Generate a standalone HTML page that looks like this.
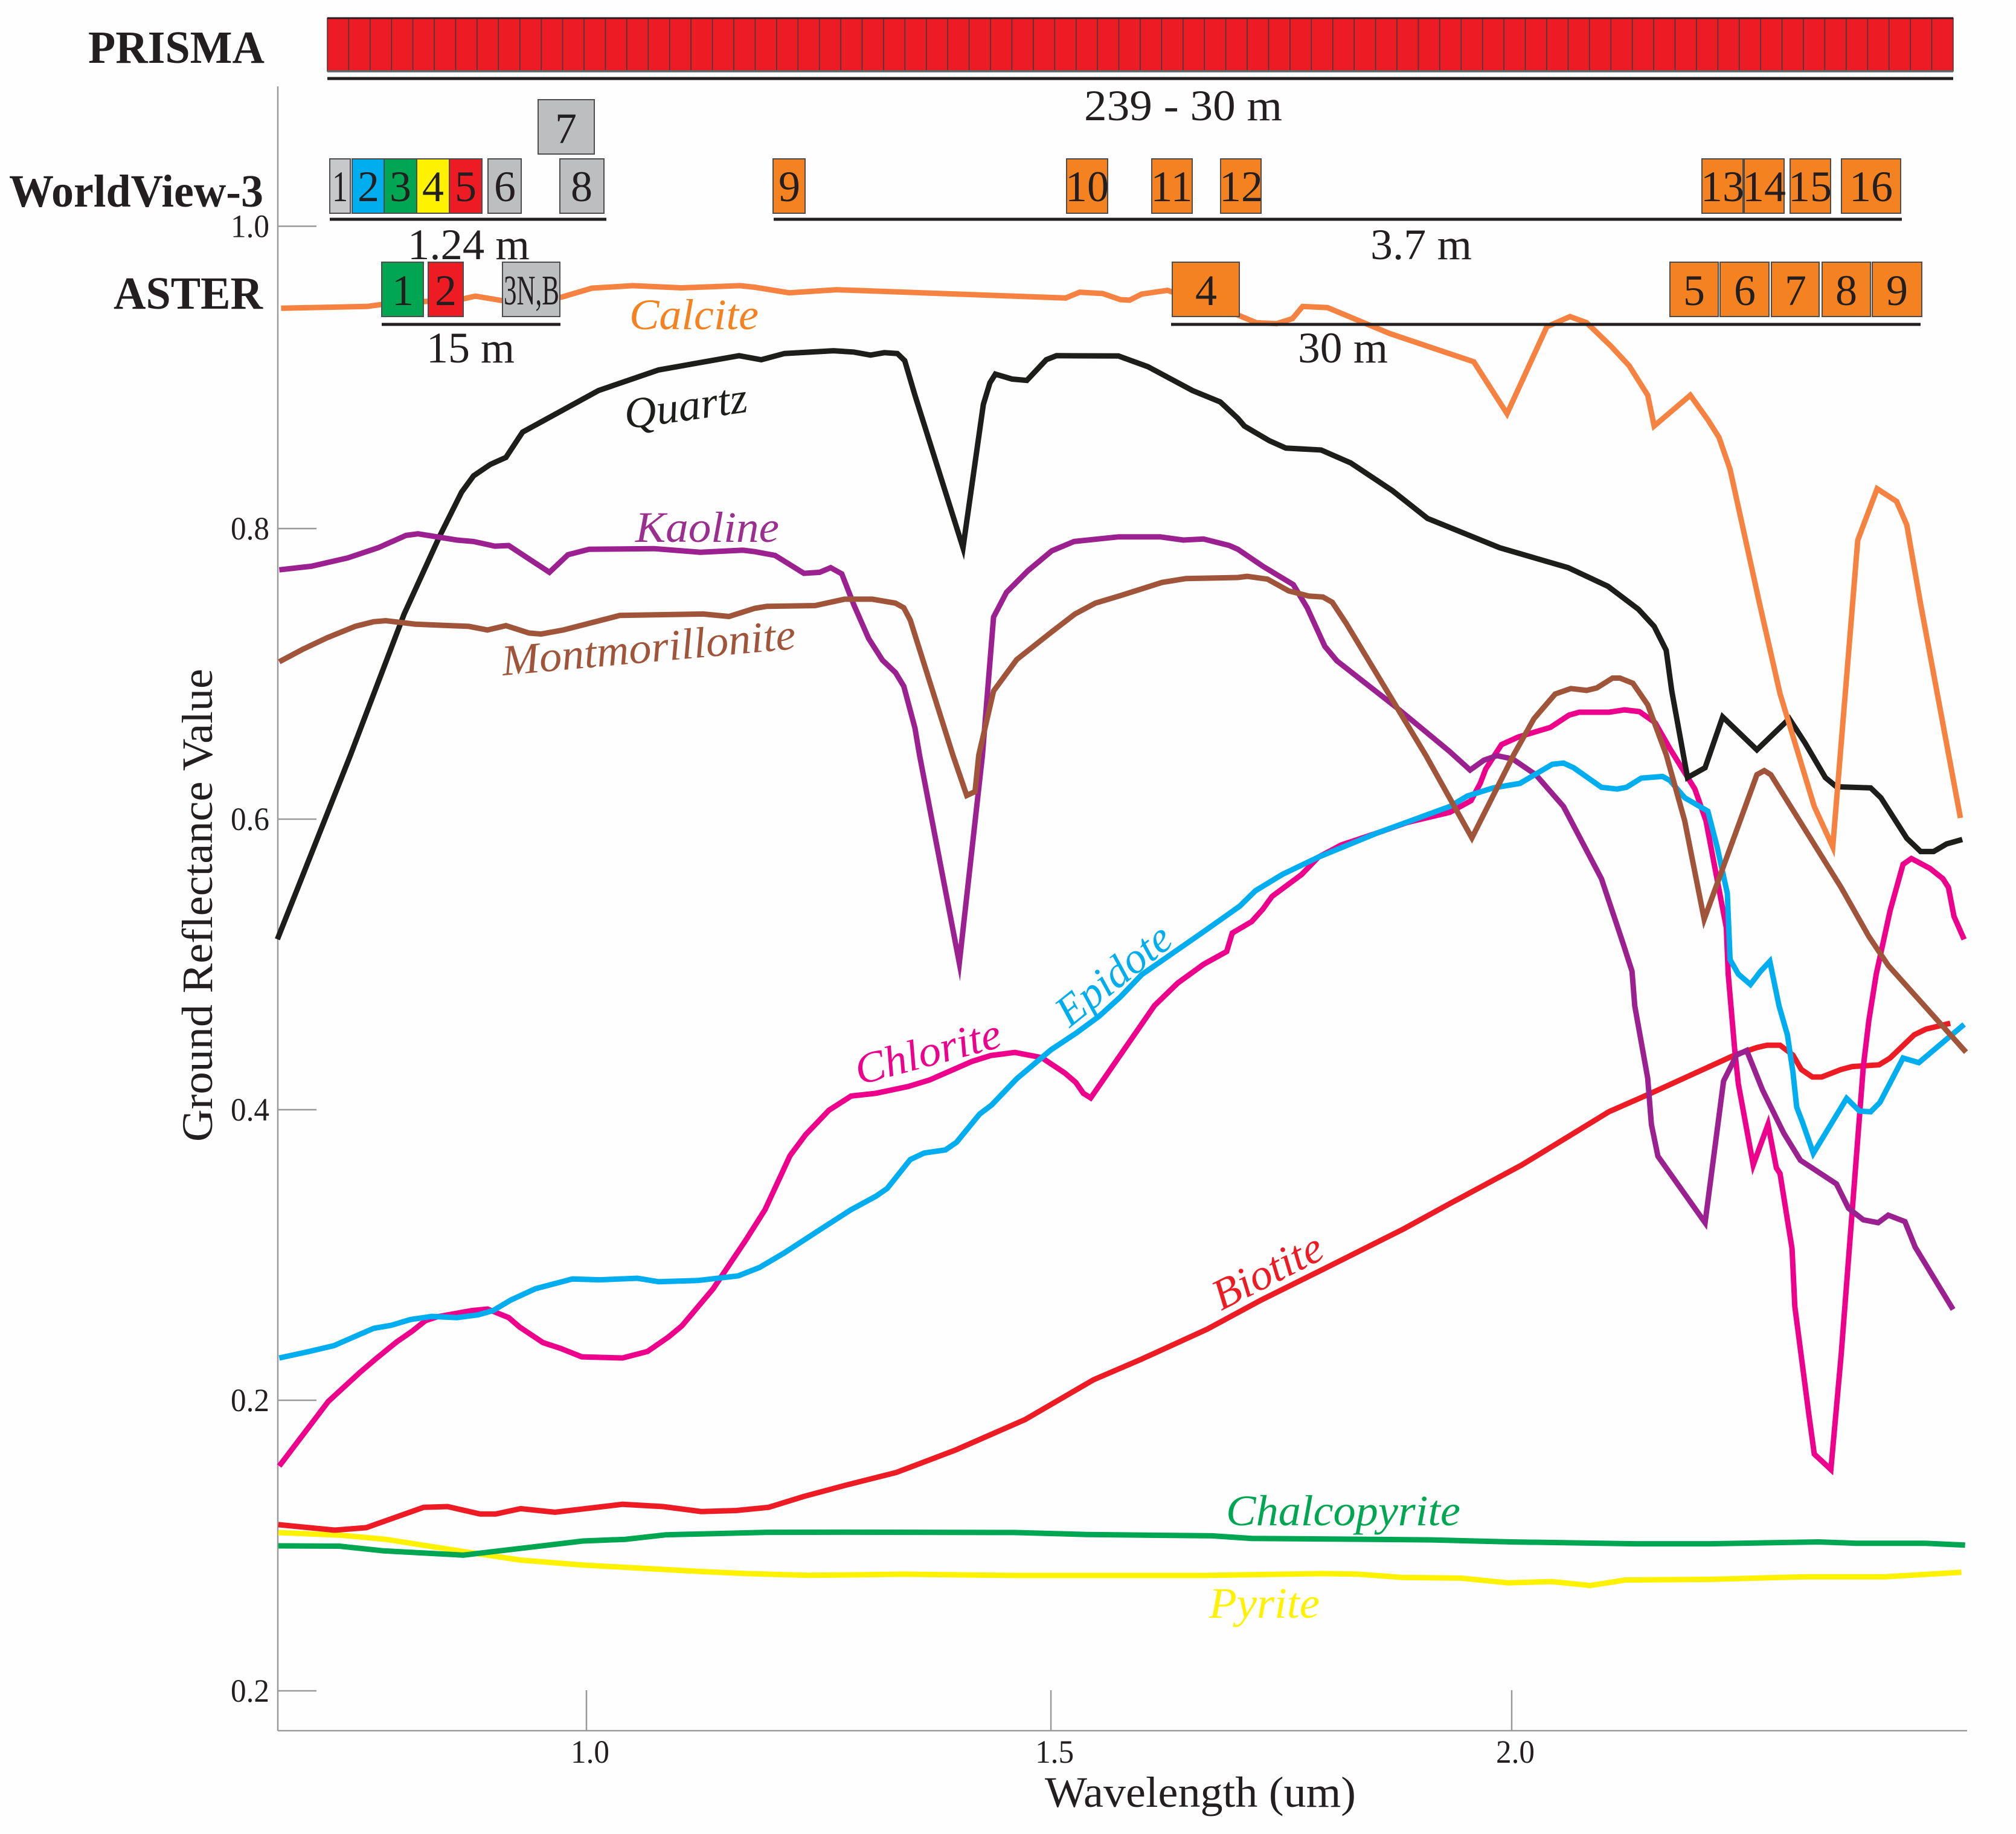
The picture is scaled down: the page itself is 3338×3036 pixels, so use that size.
<!DOCTYPE html>
<html lang="en">
<head>
<meta charset="utf-8">
<title>Ground reflectance spectra with sensor bands</title>
<style>
html,body{margin:0;padding:0;background:#fefefe;}
svg{display:block;font-family:"Liberation Serif",serif;}
.lab{font-size:72px;fill:#231f20;}
.bold{font-size:76px;font-weight:bold;fill:#231f20;}
.box{stroke:#4d4d4f;stroke-width:2;}
.num{font-size:72px;fill:#231f20;text-anchor:middle;}
.curve{font-size:72px;font-style:italic;}
.rule{stroke:#231f20;stroke-width:5;}
</style>
</head>
<body>
<svg id="chart" xmlns="http://www.w3.org/2000/svg" width="3338" height="3036" viewBox="0 0 3338 3036">
<rect x="0" y="0" width="3338" height="3036" fill="#fefefe"/>

<g id="axes"></g>
<g id="lines"></g>

<g>
<text class="bold" x="146" y="104" textLength="292" lengthAdjust="spacingAndGlyphs">PRISMA</text>
<g id="prismaCells"></g>
<line x1="542" y1="30" x2="3234" y2="30" stroke="#231f20" stroke-width="3"/>
<line x1="542" y1="118" x2="3234" y2="118" stroke="#5a6a6a" stroke-width="3.5"/>
<line class="rule" x1="542" y1="130" x2="3234" y2="130"/>
<text class="lab" x="1795" y="199" textLength="328" lengthAdjust="spacingAndGlyphs">239 - 30 m</text>
</g>

<g>
<text class="bold" x="15" y="342" textLength="421" lengthAdjust="spacingAndGlyphs">WorldView-3</text>
<rect class="box" x="546" y="263" width="34" height="90" fill="#c7c8ca"/>
<rect class="box" x="583" y="263" width="53" height="90" fill="#00aeef"/>
<rect class="box" x="636" y="263" width="54" height="90" fill="#00a651"/>
<rect class="box" x="690" y="263" width="54" height="90" fill="#fff200"/>
<rect class="box" x="744" y="263" width="54" height="90" fill="#ed1c24"/>
<rect class="box" x="808" y="263" width="55" height="90" fill="#bcbec0"/>
<rect class="box" x="891" y="165" width="93" height="90" fill="#bcbec0"/>
<rect class="box" x="927" y="263" width="73" height="90" fill="#bcbec0"/>
<rect class="box" x="1280" y="263" width="53" height="90" fill="#f58220"/>
<rect class="box" x="1766" y="263" width="68" height="90" fill="#f58220"/>
<rect class="box" x="1907" y="263" width="67" height="90" fill="#f58220"/>
<rect class="box" x="2021" y="263" width="67" height="90" fill="#f58220"/>
<rect class="box" x="2818" y="263" width="68" height="90" fill="#f58220"/>
<rect class="box" x="2888" y="263" width="66" height="90" fill="#f58220"/>
<rect class="box" x="2964" y="263" width="67" height="90" fill="#f58220"/>
<rect class="box" x="3049" y="263" width="98" height="90" fill="#f58220"/>
<text class="num" x="563" y="333" textLength="26" lengthAdjust="spacingAndGlyphs">1</text>
<text class="num" x="610" y="333">2</text>
<text class="num" x="663" y="333">3</text>
<text class="num" x="717" y="333">4</text>
<text class="num" x="771" y="333">5</text>
<text class="num" x="836" y="333">6</text>
<text class="num" x="937" y="237">7</text>
<text class="num" x="963" y="333">8</text>
<text class="num" x="1307" y="333">9</text>
<text class="num" x="1800" y="333">10</text>
<text class="num" x="1940" y="333">11</text>
<text class="num" x="2055" y="333">12</text>
<text class="num" x="2852" y="333">13</text>
<text class="num" x="2921" y="333">14</text>
<text class="num" x="2997" y="333">15</text>
<text class="num" x="3098" y="333">16</text>
<line class="rule" x1="546" y1="363" x2="1004" y2="363"/>
<line class="rule" x1="1281" y1="363" x2="3149" y2="363"/>
<text class="lab" x="675" y="429" textLength="202" lengthAdjust="spacingAndGlyphs">1.24 m</text>
<text class="lab" x="2269" y="429" textLength="168" lengthAdjust="spacingAndGlyphs">3.7 m</text>
</g>

<g>
<text class="bold" x="188" y="511" textLength="247" lengthAdjust="spacingAndGlyphs">ASTER</text>
<rect class="box" x="632" y="434" width="69" height="90" fill="#00a651"/>
<rect class="box" x="709" y="434" width="58" height="90" fill="#ed1c24"/>
<rect class="box" x="832" y="434" width="95" height="90" fill="#bcbec0"/>
<rect class="box" x="1941" y="434" width="111" height="90" fill="#f58220"/>
<rect class="box" x="2765" y="434" width="80" height="90" fill="#f58220"/>
<rect class="box" x="2848" y="434" width="81" height="90" fill="#f58220"/>
<rect class="box" x="2933" y="434" width="79" height="90" fill="#f58220"/>
<rect class="box" x="3017" y="434" width="80" height="90" fill="#f58220"/>
<rect class="box" x="3100" y="434" width="82" height="90" fill="#f58220"/>
<text class="num" x="667" y="505">1</text>
<text class="num" x="738" y="505">2</text>
<text class="lab" x="834" y="504" textLength="92" lengthAdjust="spacingAndGlyphs" style="font-size:70px">3N,B</text>
<text class="num" x="1997" y="505">4</text>
<text class="num" x="2805" y="505">5</text>
<text class="num" x="2889" y="505">6</text>
<text class="num" x="2973" y="505">7</text>
<text class="num" x="3057" y="505">8</text>
<text class="num" x="3141" y="505">9</text>
<line class="rule" x1="632" y1="537" x2="928" y2="537"/>
<line class="rule" x1="1939" y1="537" x2="3180" y2="537"/>
<text class="lab" x="706" y="600" textLength="146" lengthAdjust="spacingAndGlyphs">15 m</text>
<text class="lab" x="2149" y="600" textLength="149" lengthAdjust="spacingAndGlyphs">30 m</text>
</g>

<g>
<text class="curve" x="1042" y="545" fill="#f58220" textLength="214" lengthAdjust="spacingAndGlyphs">Calcite</text>
<text class="curve" transform="translate(1037,710) rotate(-8)" fill="#1d1d1b" textLength="205" lengthAdjust="spacingAndGlyphs">Quartz</text>
<text class="curve" x="1052" y="897" fill="#9b2f8f" textLength="238" lengthAdjust="spacingAndGlyphs">Kaoline</text>
<text class="curve" transform="translate(833,1118) rotate(-5.2)" fill="#a0553a" textLength="488" lengthAdjust="spacingAndGlyphs">Montmorillonite</text>
<text class="curve" transform="translate(1423,1796) rotate(-15)" fill="#ec008c" textLength="247" lengthAdjust="spacingAndGlyphs">Chlorite</text>
<text class="curve" transform="translate(1771,1702) rotate(-38.7)" fill="#00aeef" textLength="224" lengthAdjust="spacingAndGlyphs">Epidote</text>
<text class="curve" transform="translate(2022,2170) rotate(-27)" fill="#ed1c24" textLength="196" lengthAdjust="spacingAndGlyphs">Biotite</text>
<text class="curve" x="2030" y="2525" fill="#00a651" textLength="388" lengthAdjust="spacingAndGlyphs">Chalcopyrite</text>
<text class="curve" x="2002" y="2678" fill="#fff200" textLength="183" lengthAdjust="spacingAndGlyphs">Pyrite</text>
</g>

<text class="lab" x="1730" y="2991" textLength="515" lengthAdjust="spacingAndGlyphs">Wavelength (um)</text>
<text class="lab" transform="translate(351,1890) rotate(-90)" textLength="783" lengthAdjust="spacingAndGlyphs">Ground Reflectance Value</text>
</svg>

<script>
const xTickValues = [1.0, 1.502, 2.0];
const xTickLabels = ["1.0", "1.5", "2.0"];
const yTickValues = [0, 0.2, 0.4, 0.6, 0.8, 1.0081];
const yTickLabels = ["0.2", "0.2", "0.4", "0.6", "0.8", "1.0"];
const prismaBandCount = 76;

const pyriteWl = [.667,.733,.783,.867,.929,.996,1.124,1.173,1.240,1.280,1.343,1.462,1.668,1.794,1.834,1.881,1.945,1.996,2.043,2.085,2.123,2.214,2.316,2.403,2.486];
const pyriteR = [.1089,.1072,.1043,.0959,.0900,.0866,.0821,.0807,.0795,.0798,.0803,.0794,.0794,.0807,.0803,.0781,.0776,.0743,.0752,.0725,.0763,.0767,.0785,.0785,.0816];

const chalcopyriteWl = [.667,.733,.780,.867,.996,1.042,1.086,1.194,1.280,1.462,1.541,1.676,1.719,1.913,2.000,2.134,2.214,2.332,2.372,2.447,2.490];
const chalcopyriteR = [.0998,.0996,.0964,.0934,.1031,.1043,.1074,.1091,.1092,.1090,.1076,.1067,.1049,.1039,.1025,.1012,.1012,.1025,.1016,.1016,.1003];

const biotiteWl = [.667,.728,.762,.824,.850,.885,.902,.929,.966,1.039,1.083,1.124,1.162,1.197,1.235,1.280,1.335,1.399,1.474,1.548,1.600,1.671,1.729,1.796,1.883,1.933,2.011,2.105,2.148,2.241,2.265,2.276,2.290,2.304,2.313,2.325,2.335,2.356,2.368,2.397,2.409,2.435,2.448,2.474];
const biotiteR = [.1144,.1106,.1123,.1263,.1268,.1217,.1217,.1254,.1229,.1284,.1268,.1234,.1241,.1263,.1338,.1415,.1503,.1658,.1867,.2141,.2283,.2490,.2689,.2901,.3179,.3353,.3620,.3986,.4106,.4376,.4428,.4444,.4444,.4376,.4277,.4225,.4225,.4277,.4297,.4309,.4356,.4515,.4555,.4595];

const chloriteWl = [.668,.721,.755,.772,.795,.812,.826,.839,.876,.893,.916,.928,.953,.972,.995,1.039,1.066,1.089,1.103,1.137,1.172,1.193,1.220,1.237,1.251,1.262,1.286,1.313,1.348,1.371,1.417,1.437,1.463,1.492,1.517,1.529,1.537,1.545,1.614,1.639,1.667,1.692,1.698,1.719,1.731,1.741,1.773,1.791,1.816,1.854,1.887,1.933,1.956,1.966,1.972,1.989,2.007,2.042,2.062,2.073,2.105,2.122,2.138,2.155,2.171,2.198,2.210,2.232,2.234,2.241,2.245,2.261,2.277,2.286,2.290,2.303,2.306,2.321,2.327,2.345,2.356,2.368,2.380,2.386,2.394,2.409,2.423,2.432,2.452,2.466,2.472,2.478,2.489];
const chloriteR = [.1547,.1992,.2191,.2283,.2402,.2477,.2548,.2575,.2617,.2628,.2569,.2503,.2397,.2357,.2299,.2291,.2336,.2437,.2511,.2768,.3100,.3312,.3683,.3829,.3922,.3996,.4094,.4113,.4160,.4205,.4333,.4373,.4394,.4359,.4253,.4187,.4113,.4081,.4717,.4871,.5001,.5089,.5216,.5295,.5380,.5468,.5619,.5738,.5823,.5903,.5977,.6047,.6127,.6246,.6346,.6513,.6565,.6632,.6716,.6736,.6736,.6752,.6740,.6664,.6485,.6207,.5988,.5252,.4933,.4416,.4177,.3620,.3899,.3600,.3560,.3043,.2645,.1909,.1630,.1523,.2307,.3302,.4297,.4615,.4933,.5371,.5689,.5729,.5661,.5590,.5530,.5331,.5172];

const quartzWl = [.666,.745,.803,.841,.865,.878,.896,.913,.931,1.013,1.078,1.165,1.189,1.214,1.267,1.289,1.307,1.322,1.336,1.344,1.355,1.407,1.429,1.436,1.442,1.460,1.476,1.497,1.508,1.575,1.607,1.655,1.685,1.704,1.711,1.738,1.756,1.794,1.826,1.871,1.909,1.987,2.061,2.104,2.137,2.154,2.167,2.173,2.190,2.209,2.228,2.265,2.300,2.317,2.339,2.351,2.388,2.399,2.427,2.442,2.456,2.470,2.487];
const quartzR = [.5173,.6441,.7412,.7943,.8250,.8363,.8441,.8490,.8664,.8950,.9092,.9190,.9162,.9205,.9224,.9215,.9194,.9211,.9205,.9156,.8918,.7868,.8855,.9003,.9063,.9029,.9020,.9162,.9190,.9188,.9114,.8950,.8872,.8759,.8706,.8605,.8554,.8541,.8452,.8261,.8070,.7868,.7731,.7603,.7444,.7327,.7162,.6883,.6286,.6354,.6704,.6477,.6692,.6525,.6286,.6223,.6215,.6147,.5868,.5777,.5777,.5829,.5860];

const kaolineWl = [.668,.703,.742,.775,.805,.818,.860,.878,.901,.916,.960,.980,1.003,1.073,1.123,1.169,1.182,1.204,1.235,1.252,1.264,1.276,1.289,1.305,1.320,1.334,1.343,1.355,1.360,1.403,1.428,1.440,1.454,1.477,1.503,1.527,1.575,1.620,1.645,1.667,1.695,1.704,1.731,1.764,1.779,1.798,1.811,1.874,1.933,1.955,1.970,1.984,2.001,2.026,2.056,2.097,2.120,2.130,2.133,2.147,2.151,2.158,2.209,2.229,2.243,2.254,2.271,2.294,2.312,2.351,2.364,2.380,2.396,2.407,2.425,2.436,2.477];
const kaolineR = [.7716,.7741,.7798,.7868,.7953,.7964,.7921,.7911,.7879,.7883,.7699,.7820,.7858,.7862,.7837,.7851,.7841,.7815,.7692,.7699,.7731,.7688,.7476,.7243,.7094,.7009,.6914,.6628,.6441,.5009,.6441,.7391,.7561,.7709,.7847,.7911,.7943,.7943,.7921,.7928,.7883,.7858,.7741,.7614,.7455,.7190,.7090,.6776,.6465,.6338,.6406,.6437,.6414,.6306,.6087,.5590,.5152,.4953,.4714,.4217,.3899,.3680,.3222,.4197,.4376,.4408,.4137,.3839,.3652,.3489,.3322,.3242,.3222,.3274,.3230,.3055,.2625];

const epidoteWl = [.668,.697,.727,.749,.770,.789,.810,.833,.860,.883,.899,.918,.945,.985,1.014,1.055,1.078,1.120,1.164,1.187,1.214,1.255,1.286,1.313,1.325,1.350,1.365,1.388,1.400,1.425,1.438,1.465,1.502,1.529,1.554,1.577,1.600,1.669,1.706,1.723,1.752,1.791,1.854,1.912,1.933,1.952,1.980,2.009,2.044,2.056,2.067,2.097,2.114,2.124,2.140,2.163,2.171,2.187,2.212,2.222,2.233,2.236,2.245,2.258,2.269,2.279,2.289,2.298,2.304,2.308,2.314,2.326,2.362,2.376,2.388,2.398,2.423,2.440,2.489];
const epidoteR = [.2291,.2331,.2376,.2437,.2495,.2516,.2556,.2577,.2569,.2588,.2617,.2689,.2768,.2835,.2829,.2840,.2816,.2824,.2856,.2914,.3015,.3185,.3312,.3405,.3458,.3657,.3702,.3723,.3776,.3970,.4033,.4213,.4412,.4526,.4643,.4776,.4929,.5234,.5401,.5507,.5619,.5738,.5903,.6038,.6087,.6159,.6215,.6246,.6378,.6386,.6354,.6219,.6207,.6219,.6282,.6294,.6266,.6147,.6055,.5809,.5490,.5033,.4933,.4862,.4953,.5021,.4714,.4515,.4257,.4018,.3919,.3700,.4078,.3990,.3986,.4050,.4356,.4324,.4587];

const calciteWl = [.670,.763,.780,.866,.880,.908,.973,1.006,1.050,1.103,1.166,1.182,1.219,1.270,1.518,1.533,1.558,1.577,1.587,1.600,1.628,1.704,1.724,1.746,1.763,1.774,1.801,1.868,1.959,1.995,2.038,2.063,2.081,2.107,2.127,2.147,2.154,2.193,2.212,2.224,2.236,2.268,2.290,2.327,2.347,2.374,2.395,2.416,2.427,2.442,2.485];
const calciteR = [.9517,.9529,.9544,.958,.960,.957,.9593,.9655,.9672,.9657,.9672,.9661,.9623,.9644,.9587,.9627,.9618,.9576,.9572,.9614,.9640,.9470,.9417,.9411,.9445,.9529,.9521,.9343,.9148,.8791,.9389,.9459,.9417,.9258,.9120,.8918,.8706,.8918,.8749,.8628,.8407,.748,.6863,.6087,.5809,.792,.8274,.8187,.8025,.748,.6008];

const montmorilloniteWl = [.668,.693,.720,.750,.770,.783,.815,.873,.893,.913,.938,.951,.975,1.036,1.126,1.154,1.182,1.195,1.247,1.279,1.309,1.334,1.343,1.350,1.396,1.411,1.420,1.424,1.440,1.465,1.502,1.528,1.550,1.578,1.622,1.648,1.704,1.714,1.736,1.759,1.781,1.796,1.806,1.821,1.907,1.957,2.002,2.024,2.047,2.064,2.081,2.092,2.109,2.117,2.131,2.147,2.167,2.187,2.208,2.265,2.273,2.280,2.356,2.386,2.407,2.491];
const montmorilloniteR = [.7083,.7168,.7249,.7327,.7359,.7366,.7342,.7327,.7302,.7332,.7281,.7274,.7302,.7402,.7412,.7395,.7451,.7465,.7470,.7514,.7514,.7487,.7455,.7370,.6441,.6163,.6189,.6441,.6882,.7098,.7285,.7412,.7487,.7540,.7629,.7656,.7663,.7671,.7652,.7571,.7535,.7529,.7493,.7349,.6441,.5871,.6441,.6691,.6861,.6899,.6886,.6903,.6971,.6971,.6935,.6787,.6445,.5988,.5311,.6306,.6334,.6306,.5530,.5192,.4993,.4396];

const SVG_NS = "http://www.w3.org/2000/svg";
function xScale(um) { return 971 + 1532 * (um - 1); }
function yScale(r) { return 2799 - 2405 * r; }
function linePath(wl, refl) {
  return wl.map(function (w, i) {
    return (i ? "L" : "M") + xScale(w).toFixed(1) + " " + yScale(refl[i]).toFixed(1);
  }).join(" ");
}
function addSeries(wl, refl, color, name) {
  const p = document.createElementNS(SVG_NS, "path");
  p.setAttribute("d", linePath(wl, refl));
  p.setAttribute("fill", "none");
  p.setAttribute("stroke", color);
  p.setAttribute("stroke-width", "9");
  p.setAttribute("stroke-linejoin", "miter");
  p.setAttribute("stroke-miterlimit", "14");
  
  
  document.getElementById("lines").appendChild(p);
}
addSeries(pyriteWl, pyriteR, "#fff200", "pyrite-line");
addSeries(chalcopyriteWl, chalcopyriteR, "#00a651", "chalcopyrite-line");
addSeries(biotiteWl, biotiteR, "#ed1c24", "biotite-line");
addSeries(chloriteWl, chloriteR, "#ec008c", "chlorite-line");
addSeries(quartzWl, quartzR, "#1d1d1b", "quartz-line");
addSeries(kaolineWl, kaolineR, "#9b2090", "kaoline-line");
addSeries(epidoteWl, epidoteR, "#00aeef", "epidote-line");
addSeries(calciteWl, calciteR, "#f58240", "calcite-line");
addSeries(montmorilloniteWl, montmorilloniteR, "#a0553a", "montmorillonite-line");

const axes = document.getElementById("axes");
function addAxisLine(x1, y1, x2, y2, name) {
  const l = document.createElementNS(SVG_NS, "line");
  l.setAttribute("x1", x1);
  l.setAttribute("y1", y1);
  l.setAttribute("x2", x2);
  l.setAttribute("y2", y2);
  l.setAttribute("stroke", "#9a9a9a");
  l.setAttribute("stroke-width", "2.5");
  
  
  axes.appendChild(l);
}
function addTickLabel(x, y, str, name) {
  const t = document.createElementNS(SVG_NS, "text");
  t.setAttribute("x", x);
  t.setAttribute("y", y);
  t.setAttribute("font-size", "54");
  t.setAttribute("fill", "#231f20");
  t.setAttribute("textLength", "64");
  t.setAttribute("lengthAdjust", "spacingAndGlyphs");
  
  
  t.textContent = str;
  axes.appendChild(t);
}
addAxisLine(460, 143, 460, 2865, "y-axis-line");
addAxisLine(460, 2865, 3257, 2865, "x-axis-line");
yTickValues.forEach(function (v, i) {
  const y = yScale(v);
  addAxisLine(460, y, 524, y, "y-tick");
  addTickLabel(382, y + 18, yTickLabels[i], "y-tick-label");
});
xTickValues.forEach(function (v, i) {
  const x = xScale(v);
  addAxisLine(x, 2798, x, 2865, "x-tick");
  addTickLabel(x - 26, 2918, xTickLabels[i], "x-tick-label");
});

const cells = document.getElementById("prismaCells");
const cellWidth = (3234 - 542) / prismaBandCount;
for (let i = 0; i < prismaBandCount; i++) {
  const c = document.createElementNS(SVG_NS, "rect");
  c.setAttribute("x", (542 + i * cellWidth).toFixed(2));
  c.setAttribute("y", "30");
  c.setAttribute("width", cellWidth.toFixed(2));
  c.setAttribute("height", "88");
  c.setAttribute("fill", "#ed1c24");
  c.setAttribute("stroke", "#3c3c3c");
  c.setAttribute("stroke-width", "1.5");
  
  
  cells.appendChild(c);
}
</script>
</body>
</html>
